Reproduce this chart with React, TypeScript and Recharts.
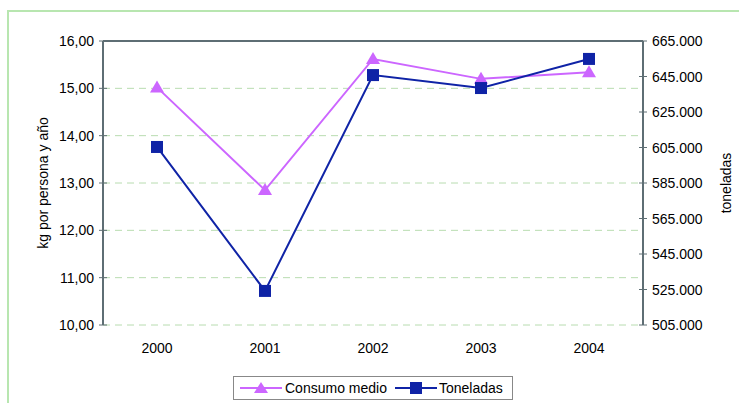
import React from "react";
import {
  LineChart,
  Line,
  XAxis,
  YAxis,
  CartesianGrid,
  ReferenceLine,
} from "recharts";

const years = ["2000", "2001", "2002", "2003", "2004"];
const consumoMedio = [15.02, 12.85, 15.62, 15.2, 15.34];
const toneladas = [605300, 524200, 645800, 638500, 654900];
const leftTicks = [10, 11, 12, 13, 14, 15, 16];
const rightTicks = [505000, 525000, 545000, 565000, 585000, 605000, 625000, 645000, 665000];
const boundaryTicks = [0, 1, 2, 3, 4, 5];
const labelTicks = [0.5, 1.5, 2.5, 3.5, 4.5];

const data = years.map((y, i) => ({
  x: i + 0.5,
  year: y,
  consumo: consumoMedio[i],
  toneladas: toneladas[i],
}));

const VIOLET = "#CC66FF";
const NAVY = "#0F23A6";
const AXIS = "#5E6E74";
const FONT = "'Liberation Sans', Arial, sans-serif";

const fmtLeft = (v: number) => v.toFixed(2).replace(".", ",");
const fmtRight = (v: number) => String(v).replace(/\B(?=(\d{3})+(?!\d))/g, ".");

const LeftTick = (props: any) => {
  const { x, y, payload } = props;
  return (
    <g>
      <line x1={x - 4} x2={x + 4} y1={y} y2={y} stroke={AXIS} strokeWidth={1} />
      <text x={x - 9} y={y + 5} textAnchor="end" fontSize={14} fontFamily={FONT} fill="#000">
        {fmtLeft(payload.value)}
      </text>
    </g>
  );
};

const RightTick = (props: any) => {
  const { x, y, payload } = props;
  return (
    <g>
      <line x1={x - 4} x2={x + 4} y1={y} y2={y} stroke={AXIS} strokeWidth={1} />
      <text x={x + 9} y={y + 5} textAnchor="start" fontSize={14} fontFamily={FONT} fill="#000">
        {fmtRight(payload.value)}
      </text>
    </g>
  );
};

const BoundaryTick = (props: any) => {
  const { x, y } = props;
  return <line x1={x} x2={x} y1={y - 4} y2={y + 4} stroke={AXIS} strokeWidth={1} />;
};

const YearTick = (props: any) => {
  const { x, y, payload } = props;
  return (
    <text x={x} y={y + 28} textAnchor="middle" fontSize={14} fontFamily={FONT} fill="#000">
      {years[Math.floor(payload.value)]}
    </text>
  );
};

const Triangle = (props: any) => {
  const { cx, cy } = props;
  if (cx == null || cy == null) return null;
  return <polygon points={`${cx},${cy - 7} ${cx - 7},${cy + 5} ${cx + 7},${cy + 5}`} fill={VIOLET} />;
};

const Square = (props: any) => {
  const { cx, cy } = props;
  if (cx == null || cy == null) return null;
  return <rect x={cx - 6} y={cy - 6} width={12} height={12} fill={NAVY} />;
};

export default function App() {
  return (
    <div style={{ position: "absolute", left: 0, top: 0, width: 739, height: 403, overflow: "hidden", background: "#fff" }}>
      <div
        style={{
          position: "absolute",
          left: 7,
          top: 10,
          width: 780,
          height: 440,
          border: "2px solid #B8E6B0",
        }}
      />
      <div style={{ position: "absolute", left: 0, top: 0 }}>
        <LineChart width={739} height={403} data={data} margin={{ top: 41, right: 0, bottom: 0, left: 0 }}>
          <CartesianGrid
            yAxisId="left"
            vertical={false}
            stroke="#B8DCB0"
            strokeDasharray="7 5"
            horizontalValues={leftTicks}
          />
          <XAxis
            xAxisId="tk"
            type="number"
            dataKey="x"
            domain={[0, 5]}
            ticks={boundaryTicks}
            height={0}
            tickSize={0}
            tickMargin={0}
            tick={<BoundaryTick />}
            tickLine={false}
            axisLine={{ stroke: AXIS, strokeWidth: 2 }}
            interval={0}
          />
          <XAxis
            xAxisId="lab"
            type="number"
            dataKey="x"
            domain={[0, 5]}
            ticks={labelTicks}
            height={78}
            tickSize={0}
            tickMargin={0}
            tick={<YearTick />}
            tickLine={false}
            axisLine={false}
            interval={0}
          />
          <YAxis
            yAxisId="left"
            width={103}
            domain={[10, 16]}
            ticks={leftTicks}
            tickSize={0}
            tickMargin={0}
            tick={<LeftTick />}
            tickLine={false}
            axisLine={{ stroke: AXIS, strokeWidth: 2 }}
            interval={0}
            label={{
              value: "kg por persona y año",
              angle: -90,
              position: "insideLeft",
              offset: 0,
              dx: 43,
              style: { fontSize: 14, fontFamily: FONT, fill: "#000", textAnchor: "middle" },
            }}
          />
          <YAxis
            yAxisId="right"
            orientation="right"
            width={96}
            domain={[505000, 665000]}
            ticks={rightTicks}
            tickSize={0}
            tickMargin={0}
            tick={<RightTick />}
            tickLine={false}
            axisLine={{ stroke: AXIS, strokeWidth: 2 }}
            interval={0}
            label={{
              value: "toneladas",
              angle: -90,
              position: "insideRight",
              offset: 0,
              dx: -13,
              style: { fontSize: 14, fontFamily: FONT, fill: "#000", textAnchor: "middle" },
            }}
          />
          <ReferenceLine yAxisId="left" xAxisId="lab" y={16} stroke={AXIS} strokeWidth={2} />
          <Line
            xAxisId="lab"
            yAxisId="left"
            dataKey="consumo"
            stroke={VIOLET}
            strokeWidth={2}
            dot={<Triangle />}
            activeDot={false}
            isAnimationActive={false}
          />
          <Line
            xAxisId="lab"
            yAxisId="right"
            dataKey="toneladas"
            stroke={NAVY}
            strokeWidth={2}
            dot={<Square />}
            activeDot={false}
            isAnimationActive={false}
          />
        </LineChart>
      </div>
      <div
        style={{
          position: "absolute",
          left: 233,
          top: 376,
          width: 278,
          height: 22,
          border: "1px solid #888",
          background: "#fff",
          display: "flex",
          alignItems: "center",
          fontFamily: FONT,
          fontSize: 14,
          color: "#000",
        }}
      >
        <svg width={42} height={16} style={{ marginLeft: 6 }}>
          <line x1={0} x2={42} y1={8} y2={8} stroke={VIOLET} strokeWidth={2} />
          <polygon points="21,2 14,13 28,13" fill={VIOLET} />
        </svg>
        <span style={{ marginLeft: 3 }}>Consumo medio</span>
        <svg width={42} height={16} style={{ marginLeft: 8 }}>
          <line x1={0} x2={42} y1={8} y2={8} stroke={NAVY} strokeWidth={2} />
          <rect x={15} y={2} width={12} height={12} fill={NAVY} />
        </svg>
        <span style={{ marginLeft: 2 }}>Toneladas</span>
      </div>
    </div>
  );
}
